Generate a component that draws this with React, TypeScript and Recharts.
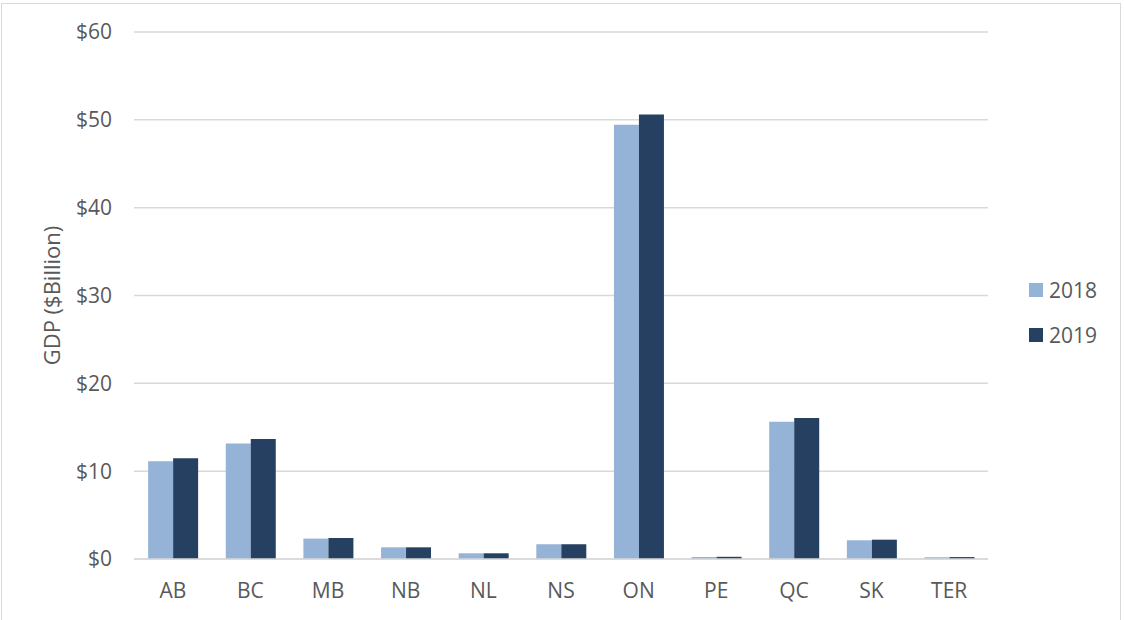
import React from 'react';
import { BarChart, Bar, XAxis, YAxis, CartesianGrid, Legend } from 'recharts';

// Provincial GDP, $ billions
const provinces = ['AB', 'BC', 'MB', 'NB', 'NL', 'NS', 'ON', 'PE', 'QC', 'SK', 'TER'];
const gdp2018 = [11.14, 13.15, 2.32, 1.33, 0.65, 1.68, 49.43, 0.23, 15.62, 2.13, 0.2];
const gdp2019 = [11.48, 13.65, 2.39, 1.33, 0.65, 1.68, 50.6, 0.25, 16.04, 2.2, 0.22];
const yTicks = [0, 10, 20, 30, 40, 50, 60];
const seriesNames = ['2018', '2019'];

const data = provinces.map((p, i) => ({ name: p, y2018: gdp2018[i], y2019: gdp2019[i] }));

const FONT = "'Open Sans', sans-serif";
const TEXT = '#595959';
const GRID = '#d9d9d9';
const LIGHT = '#95b3d7';
const DARK = '#254061';
const LEGEND_WIDTH = 90;

function AxisTitle(props: any) {
  const vb = props.viewBox || { x: 0, y: 0, width: 0, height: 0 };
  const x = vb.x + 60;
  const y = vb.y + vb.height / 2;
  return (
    <text
      x={x}
      y={y}
      transform={`rotate(-90, ${x}, ${y})`}
      textAnchor="middle"
      fill={TEXT}
      fontFamily={FONT}
      fontSize={22}
    >
      GDP ($Billion)
    </text>
  );
}

function LegendBox() {
  const colors = [LIGHT, DARK];
  return (
    <div style={{ fontFamily: FONT, fontSize: 21, color: TEXT }}>
      {seriesNames.map((s, i) => (
        <div
          key={s}
          style={{ display: 'flex', alignItems: 'center', height: 45 }}
        >
          <span
            style={{ display: 'inline-block', width: 14, height: 14, background: colors[i], marginRight: 6 }}
          />
          <span>{s}</span>
        </div>
      ))}
    </div>
  );
}

export default function App() {
  return (
    <div style={{ position: 'absolute', left: 0, top: 0, width: 1124, height: 620, background: '#fff', overflow: 'hidden' }}>
      <div
        style={{
          position: 'absolute',
          left: 1,
          top: 3,
          width: 1120,
          height: 640,
          border: `1px solid ${GRID}`,
          boxSizing: 'border-box',
        }}
      />
      <BarChart
        width={1124}
        height={620}
        data={data}
        margin={{ top: 32, right: 136 - LEGEND_WIDTH, bottom: 0, left: 0 }}
        barCategoryGap="18.2%"
        barGap={0}
      >
        <CartesianGrid vertical={false} stroke={GRID} strokeWidth={1.5} />
        <XAxis
          dataKey="name"
          height={61}
          tickLine={false}
          tickSize={0}
          tickMargin={24}
          axisLine={{ stroke: GRID, strokeWidth: 1.5 }}
          tick={{ fill: TEXT, fontFamily: FONT, fontSize: 21 }}
          interval={0}
        />
        <YAxis
          width={134}
          domain={[0, 60]}
          ticks={yTicks}
          axisLine={false}
          tickLine={false}
          tickSize={0}
          tickMargin={22}
          tickFormatter={(v: number) => `$${v}`}
          tick={{ fill: TEXT, fontFamily: FONT, fontSize: 21 }}
          label={<AxisTitle />}
        />
        <Legend
          layout="horizontal"
          verticalAlign="middle"
          align="right"
          content={<LegendBox />}
          wrapperStyle={{ left: 1029, top: 267, width: LEGEND_WIDTH }}
        />
        <Bar dataKey="y2018" name={seriesNames[0]} fill={LIGHT} isAnimationActive={false} />
        <Bar dataKey="y2019" name={seriesNames[1]} fill={DARK} isAnimationActive={false} />
      </BarChart>
    </div>
  );
}
